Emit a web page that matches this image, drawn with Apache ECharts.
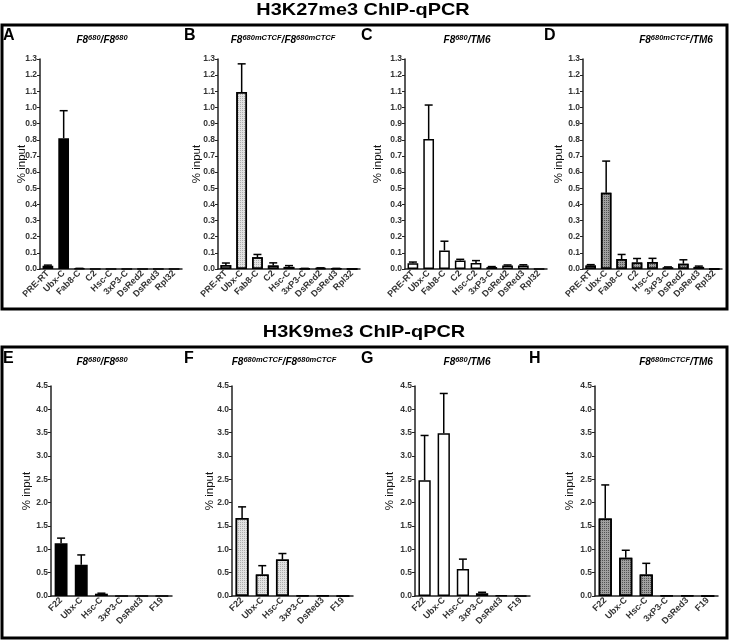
<!DOCTYPE html>
<html><head><meta charset="utf-8">
<script src="https://cdn.jsdelivr.net/npm/echarts@6/dist/echarts.min.js"></script>
<style>html,body{margin:0;padding:0;background:#fff}#c{width:730px;height:641px}</style>
</head><body><div id="c"></div>
<script>
// ---- data ----
const catTop = ['PRE-RT','Ubx-C','Fab8-C','C2','Hsc-C','3xP3-C','DsRed2','DsRed3','Rpl32'];
const catTopC = ['PRE-RT','Ubx-C','Fab8-C','C2','Hsc-C2','3xP3-C','DsRed2','DsRed3','Rpl32'];
const catBottom = ['F22','Ubx-C','Hsc-C','3xP3-C','DsRed3','F19'];

const valA = [0.020, 0.810, 0.003, 0, 0, 0, 0, 0, 0];
const errA = [0.004, 0.170, 0.001, 0, 0, 0, 0, 0, 0];
const valB = [0.025, 1.095, 0.072, 0.022, 0.013, 0.003, 0.005, 0.003, 0];
const errB = [0.012, 0.175, 0.018, 0.016, 0.008, 0.001, 0.002, 0.001, 0];
const valC = [0.035, 0.805, 0.115, 0.052, 0.037, 0.012, 0.022, 0.022, 0.001];
const errC = [0.008, 0.210, 0.057, 0.008, 0.015, 0.003, 0.003, 0.004, 0];
const valD = [0.022, 0.472, 0.062, 0.040, 0.043, 0.010, 0.033, 0.013, 0];
const errD = [0.005, 0.196, 0.028, 0.025, 0.023, 0.003, 0.024, 0.005, 0];

const valE = [1.13, 0.67, 0.05, 0, 0, 0];
const errE = [0.11, 0.21, 0.01, 0, 0, 0];
const valF = [1.67, 0.46, 0.78, 0.015, 0.015, 0];
const errF = [0.24, 0.19, 0.13, 0, 0, 0];
const valG = [2.48, 3.49, 0.58, 0.06, 0.015, 0];
const errG = [0.96, 0.85, 0.21, 0.02, 0, 0];
const valH = [1.66, 0.82, 0.46, 0.015, 0.015, 0];
const errH = [0.72, 0.16, 0.24, 0, 0, 0];

const topTicks = {min: 0, max: 1.3, interval: 0.1};
const bottomTicks = {min: 0, max: 4.5, interval: 0.5};

const titleTop = 'H3K27me3 ChIP-qPCR';
const titleBottom = 'H3K9me3 ChIP-qPCR';
const yName = '% input';

// ---- styles ----
const FONT = 'Arial, "Liberation Sans", sans-serif';
const fillBlack = {color: '#000'};
const fillLight = {color: '#e2e2e2', decal: {symbol: 'rect', symbolSize: 1, dashArrayX: [1, 1], dashArrayY: [1, 1], color: 'rgba(110,110,110,0.45)'}};
const fillWhite = {color: '#fff'};
const fillDark = {color: '#a0a0a0', decal: {symbol: 'rect', symbolSize: 1, dashArrayX: [1, 1], dashArrayY: [1, 1], color: 'rgba(20,20,20,0.55)'}};

const panels = [
  {cats: catTop, vals: valA, errs: errA, ticks: topTicks, fill: fillBlack, grid: {left: 40, top: 59, width: 142, height: 210}, gap: 12, barW: '68%'},
  {cats: catTop, vals: valB, errs: errB, ticks: topTicks, fill: fillLight, grid: {left: 218, top: 59, width: 142, height: 210}, gap: 15, barW: '68%'},
  {cats: catTopC, vals: valC, errs: errC, ticks: topTicks, fill: fillWhite, grid: {left: 405, top: 59, width: 142, height: 210}, gap: 21, barW: '68%'},
  {cats: catTop, vals: valD, errs: errD, ticks: topTicks, fill: fillDark, grid: {left: 583, top: 59, width: 139, height: 210}, gap: 18, barW: '68%'},
  {cats: catBottom, vals: valE, errs: errE, ticks: bottomTicks, fill: fillBlack, grid: {left: 51, top: 386, width: 121, height: 210}, gap: 18, barW: '64%'},
  {cats: catBottom, vals: valF, errs: errF, ticks: bottomTicks, fill: fillLight, grid: {left: 232, top: 386, width: 121, height: 210}, gap: 16, barW: '64%'},
  {cats: catBottom, vals: valG, errs: errG, ticks: bottomTicks, fill: fillWhite, grid: {left: 415, top: 386, width: 115, height: 210}, gap: 19, barW: '64%'},
  {cats: catBottom, vals: valH, errs: errH, ticks: bottomTicks, fill: fillDark, grid: {left: 595, top: 386, width: 123, height: 210}, gap: 19, barW: '64%'}
];

const grid = [], xAxis = [], yAxis = [], series = [];
panels.forEach((p, i) => {
  grid.push(Object.assign({containLabel: false}, p.grid));
  xAxis.push({
    type: 'category', gridIndex: i, data: p.cats,
    axisLine: {lineStyle: {color: '#222', width: 1.5}},
    axisTick: {alignWithLabel: true, length: 3, lineStyle: {color: '#222', width: 1}},
    axisLabel: {rotate: 45, fontSize: 9, fontWeight: 'bold', color: '#333', fontFamily: FONT, margin: 3, interval: 0},
    splitLine: {show: false}
  });
  yAxis.push({
    type: 'value', gridIndex: i, min: p.ticks.min, max: p.ticks.max, interval: p.ticks.interval,
    name: yName, nameLocation: 'middle', nameGap: p.gap, nameMoveOverlap: false,
    nameTextStyle: {fontSize: 11.5, color: '#111', fontFamily: FONT},
    axisLine: {show: true, lineStyle: {color: '#222', width: 1.5}},
    axisTick: {show: true, length: 3, lineStyle: {color: '#222', width: 1}},
    axisLabel: {fontSize: 8.5, fontWeight: 'bold', color: '#333', fontFamily: FONT, margin: 3, formatter: v => v.toFixed(1)},
    splitLine: {show: false}
  });
  series.push({
    type: 'bar', xAxisIndex: i, yAxisIndex: i, data: p.vals, barWidth: p.barW,
    itemStyle: Object.assign({borderColor: '#000', borderWidth: 1.5}, p.fill),
    silent: true, animation: false
  });
  series.push({
    type: 'custom', xAxisIndex: i, yAxisIndex: i,
    data: p.vals.map((v, k) => [k, v, p.errs[k]]),
    encode: {x: 0, y: 1},
    animation: false, silent: true, z: 5,
    renderItem: function (params, api) {
      const e = api.value(2);
      if (!e) return null;
      const base = api.coord([api.value(0), api.value(1)]);
      const top = api.coord([api.value(0), api.value(1) + e]);
      const hw = 4;
      const st = {stroke: '#000', lineWidth: 1.5};
      return {type: 'group', children: [
        {type: 'line', shape: {x1: base[0], y1: base[1], x2: top[0], y2: top[1]}, style: st},
        {type: 'line', shape: {x1: top[0] - hw, y1: top[1], x2: top[0] + hw, y2: top[1]}, style: st}
      ]};
    }
  });
});

// ---- annotations ----
const richSub = {
  i: {fontSize: 10, fontStyle: 'italic', fontWeight: 'bold', fontFamily: FONT, color: '#111'},
  s: {fontSize: 7.5, fontStyle: 'italic', fontWeight: 'bold', fontFamily: FONT, color: '#111', padding: [0, 0, 5, 0]}
};
const subHomo = '{i|F8}{s|680}{i|/F8}{s|680}';
const subMutHomo = '{i|F8}{s|680mCTCF}{i|/F8}{s|680mCTCF}';
const subTM = '{i|F8}{s|680}{i|/TM6}';
const subMutTM = '{i|F8}{s|680mCTCF}{i|/TM6}';

function txt(x, y, text, style, extra) {
  return Object.assign({type: 'text', x: x, y: y, style: Object.assign({text: text, fill: '#000', fontFamily: FONT}, style)}, extra || {});
}
function sub(cx, cy, text) {
  return {type: 'text', x: cx, y: cy, style: {text: text, rich: richSub, align: 'center', verticalAlign: 'middle'}};
}
const letterStyle = {fontSize: 16, fontWeight: 'bold', align: 'left', verticalAlign: 'middle'};
const headStyle = {fontSize: 17, fontWeight: 'bold', align: 'center', verticalAlign: 'middle'};

const graphic = [
  {type: 'rect', shape: {x: 2, y: 25, width: 725, height: 284}, style: {fill: 'none', stroke: '#000', lineWidth: 3}},
  {type: 'rect', shape: {x: 2, y: 347, width: 725, height: 291}, style: {fill: 'none', stroke: '#000', lineWidth: 3}},
  txt(363, 10, titleTop, headStyle, {scaleX: 1.17}),
  txt(364, 332, titleBottom, headStyle, {scaleX: 1.17}),
  txt(3, 36, 'A', letterStyle), txt(184, 36, 'B', letterStyle), txt(361, 36, 'C', letterStyle), txt(544, 36, 'D', letterStyle),
  txt(3, 359, 'E', letterStyle), txt(184, 359, 'F', letterStyle), txt(361, 359, 'G', letterStyle), txt(529, 359, 'H', letterStyle),
  sub(102, 40, subHomo), sub(283, 40, subMutHomo), sub(467, 40, subTM), sub(676, 40, subMutTM),
  sub(102, 362, subHomo), sub(284, 362, subMutHomo), sub(467, 362, subTM), sub(676, 362, subMutTM)
];

const chart = echarts.init(document.getElementById('c'), null, {renderer: 'canvas'});
chart.setOption({animation: false, grid, xAxis, yAxis, series, graphic});
</script>
</body></html>
